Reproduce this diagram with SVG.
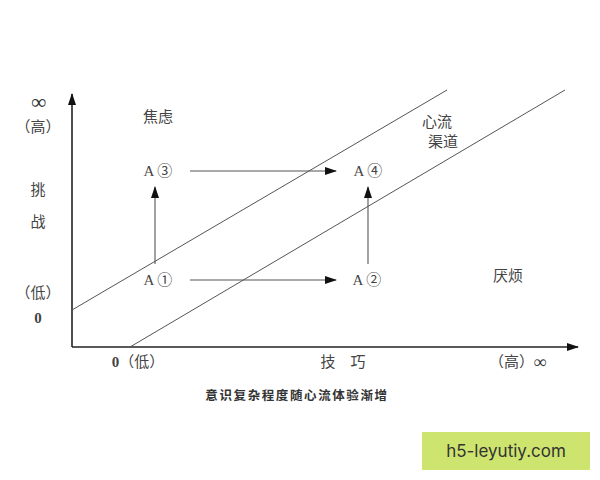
<svg xmlns="http://www.w3.org/2000/svg" width="600" height="480" viewBox="0 0 600 480">
<defs>
<marker id="ah" markerWidth="12" markerHeight="8" refX="11" refY="4" orient="auto" markerUnits="userSpaceOnUse">
<path d="M0,0 L12,4 L0,8 Z" fill="#111"/>
</marker>
<style>
.t{font-family:"Liberation Serif","Noto Sans CJK SC",serif;font-size:15px;fill:#444;text-anchor:middle;dominant-baseline:central}
.inf{font-size:21px;font-weight:bold;fill:#333}
.ax{stroke:#222;stroke-width:1.6;fill:none}
.ch{stroke:#555;stroke-width:1;fill:none}
.ar{stroke:#555;stroke-width:1.1;fill:none;marker-end:url(#ah)}
</style>
</defs>
<rect width="600" height="480" fill="#fff"/>
<g id="connectors">
<line class="ax" x1="72" y1="347" x2="72" y2="94" marker-end="url(#ah)"/>
<line class="ax" x1="72" y1="347" x2="578" y2="347" marker-end="url(#ah)"/>
<line class="ch" x1="72" y1="310" x2="447" y2="90"/>
<line class="ch" x1="130" y1="347" x2="565" y2="90"/>
<line class="ar" x1="155" y1="264" x2="155" y2="187"/>
<line class="ar" x1="368" y1="264" x2="368" y2="187"/>
<line class="ar" x1="190" y1="280" x2="336" y2="280"/>
<line class="ar" x1="190" y1="171" x2="336" y2="171"/>
</g>
<g id="y-axis-labels">
<text class="t inf" x="39" y="102">∞</text>
<text class="t" x="38" y="127">（高）</text>
<text class="t" x="38" y="190">挑</text>
<text class="t" x="38" y="222">战</text>
<text class="t" x="38" y="293">（低）</text>
<text class="t" x="38" y="318" style="font-weight:bold">0</text>
</g>
<g id="x-axis-labels">
<text class="t" x="138" y="362"><tspan style="font-weight:bold">0</tspan>（低）</text>
<text class="t" x="343" y="362">技　巧</text>
<text class="t" x="518" y="362">（高）<tspan class="inf" style="font-size:18px">∞</tspan></text>
</g>
<g id="zone-anxiety"><text class="t" x="158" y="117">焦虑</text></g>
<g id="zone-flow"><text class="t" x="437" y="122">心流</text><text class="t" x="443" y="142">渠道</text></g>
<g id="zone-boredom"><text class="t" x="508" y="276">厌烦</text></g>
<g id="A1"><text class="t" x="158" y="280">A ①</text></g>
<g id="A2"><text class="t" x="367" y="280">A ②</text></g>
<g id="A3"><text class="t" x="158" y="171">A ③</text></g>
<g id="A4"><text class="t" x="368" y="171">A ④</text></g>
<g id="caption"><text class="t" x="297" y="396" style="font-size:12.5px;letter-spacing:1.6px;font-weight:bold;fill:#333">意识复杂程度随心流体验渐增</text></g>
<g id="watermark">
<rect x="422" y="432" width="168" height="38" fill="#cde46f"/>
<text x="506" y="451" style="font-family:Inter,'Liberation Sans',sans-serif;font-size:17px;fill:#333;text-anchor:middle;dominant-baseline:central">h5-leyutiy.com</text>
</g>
</svg>
